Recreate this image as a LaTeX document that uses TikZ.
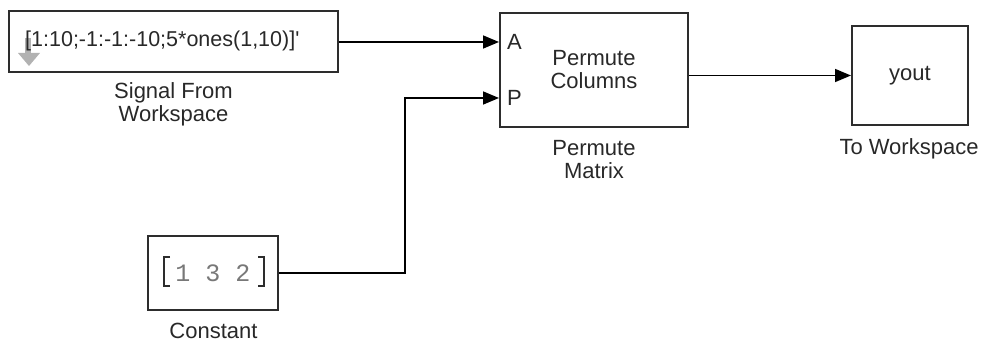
\documentclass[tikz,border=0pt]{standalone}
\usepackage{fontspec}
\setmainfont{Liberation Sans}
\setmonofont{Liberation Mono}
\usetikzlibrary{arrows.meta}
\definecolor{blockline}{RGB}{45,45,45}
\definecolor{labeltext}{RGB}{40,40,40}
\definecolor{icongray}{RGB}{178,178,178}
\definecolor{constgray}{RGB}{120,120,120}
\tikzset{
  font=\fontsize{22}{23}\selectfont,
  >={Triangle[length=16pt,width=13pt]},
  block/.style={
    draw=blockline,
    line width=2pt,
    inner sep=0pt,
    align=center,
    text=labeltext
  },
  blocklabel/.style={align=center,inner sep=0pt,anchor=north,text=labeltext},
  port/.style={inner sep=0pt,anchor=west,text=labeltext},
  wire/.style={draw=black,line width=1.6pt},
  signal/.style={wire,->},
  bracket/.style={draw=blockline,line width=2pt}
}

\begin{document}
\begin{tikzpicture}[x=1pt,y=-1pt]
  \useasboundingbox (0,0) rectangle (985,344);

  \node[block,minimum width=329,minimum height=61] at (173.5,42) (source) {};
  % workspace source icon
  \fill[icongray] (25,38) rectangle (31,53);
  \fill[icongray] (18,53) -- (40,53) -- (29,66) -- cycle;
  \node[port,font=\fontsize{21.5}{23}\selectfont] at (25,41) (sourcetext) {[1:10;-1:-1:-10;5*ones(1,10)]\textquotesingle};
  \node[blocklabel] at (173.5,82) (sourcelabel) {Signal From\\Workspace};

  \node[block,minimum width=188,minimum height=114] at (594,70) (permute) {Permute\\Columns};
  \node[port] at (507,42) (portA) {A};
  \node[port] at (507,98) (portP) {P};
  \node[blocklabel] at (594,140) (permutelabel) {Permute\\Matrix};

  \node[block,minimum width=116,minimum height=99] at (910,75.5) (yout) {yout};
  \node[blocklabel] at (909,138) (youtlabel) {To Workspace};

  \node[block,minimum width=130,minimum height=74,font=\fontsize{25}{25}\selectfont\ttfamily,text=constgray] at (213,273) (const) {1 3 2};
  \draw[bracket] (170,257) -- (164,257) -- (164,286) -- (170,286);
  \draw[bracket] (258,257) -- (264,257) -- (264,286) -- (258,286);
  \node[blocklabel] at (213.5,323) (constlabel) {Constant};

  \coordinate (bendP) at (405,98);

  \draw[signal] (source.east) -- (source.east -| permute.west);
  \draw[signal] (const.east) -| (bendP) -- (bendP -| permute.west);
  \draw[signal] (yout.west -| permute.east) -- (yout.west);

\end{tikzpicture}
\end{document}
